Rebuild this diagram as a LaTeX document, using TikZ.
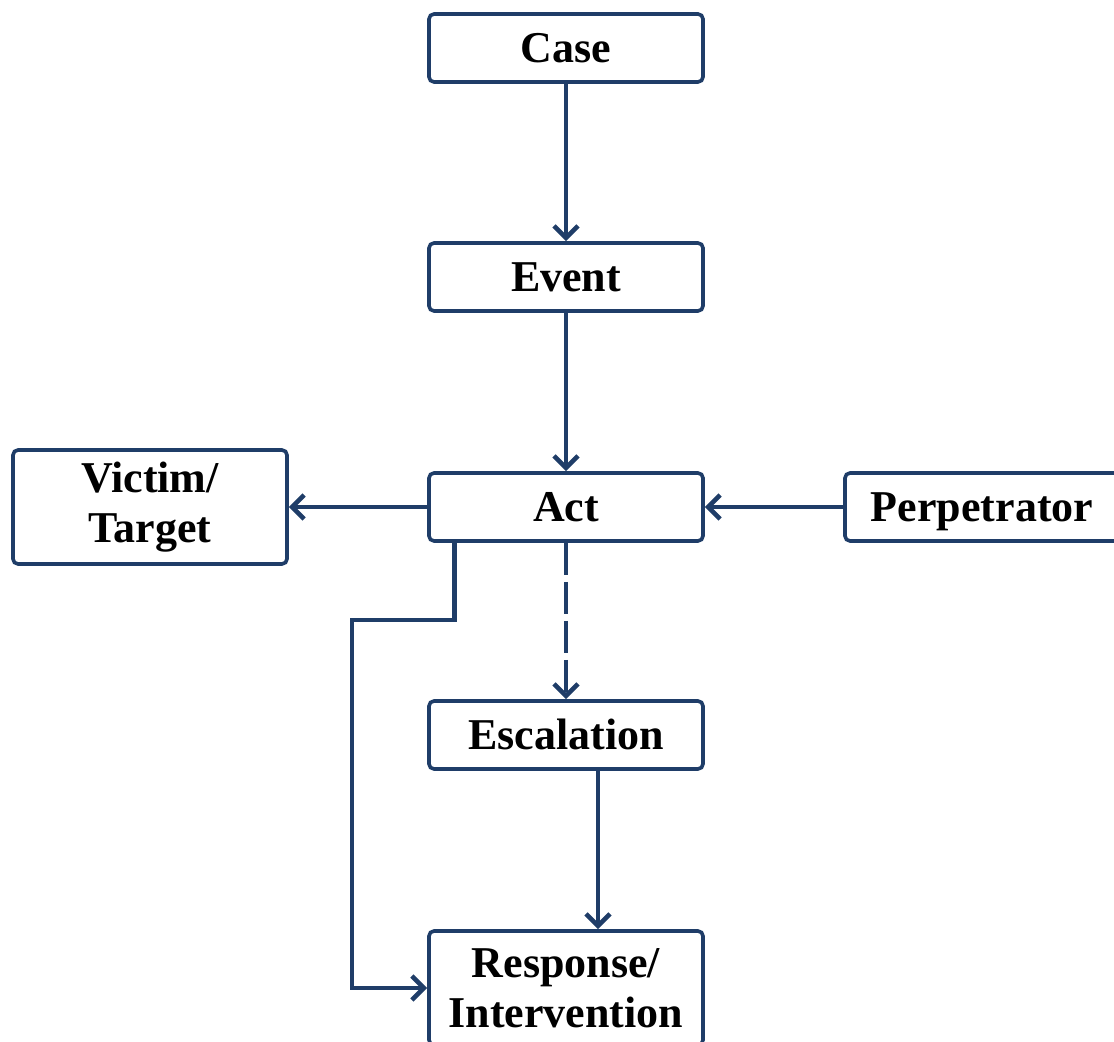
\documentclass[tikz,border=0pt]{standalone}
\usepackage{fontspec}
\setmainfont{Liberation Serif}
\usetikzlibrary{positioning,calc,arrows.meta}

\definecolor{navy}{RGB}{31,61,104}

\begin{document}
\begin{tikzpicture}[x=0.5pt,y=-0.5pt,
		>={Straight Barb[length=6pt,width=12pt,line width=2.3pt]},
		font=\fontsize{22}{25}\selectfont\bfseries,
		box/.style={draw=navy,line width=1.8pt,rounded corners=2.5pt,
			minimum width=137pt,minimum height=34pt,align=center,inner sep=0pt,
			text height=14.5pt,text depth=0pt},
		tallbox/.style={box,minimum height=57pt,text height=,text depth=},
		link/.style={draw=navy,line width=2.4pt},
	]
		\useasboundingbox (0,0) rectangle (1114,1042);

		\node[box] (case) at (566,48) {Case};
		\node[box] (event) at (566,277) {Event};
		\node[box] (act) at (566,507) {Act};
		\node[tallbox] (victim) at (150,507) {Victim/\\Target};
		\node[box] (perp) at (982,507) {Perpetrator};
		\node[box] (esc) at (566,735) {Escalation};
		\node[tallbox] (resp) at (566,988) {Response/\\Intervention};
		\coordinate (bend) at (352,620);

		\path[->,link]
			(case) edge (event)
			(event) edge (act)
			(act) edge (victim)
			(perp) edge (act)
		;
		\path[->,link,dash pattern=on 16pt off 3.5pt]
			(act) edge (esc)
		;
		\draw[->,link]
			([xshift=16pt]esc.south) -- ([xshift=16pt]resp.north);
		\draw[->,link]
			([xshift=13.5pt]act.south west) |- (bend) |- (resp.west);
	\end{tikzpicture}
\end{document}
